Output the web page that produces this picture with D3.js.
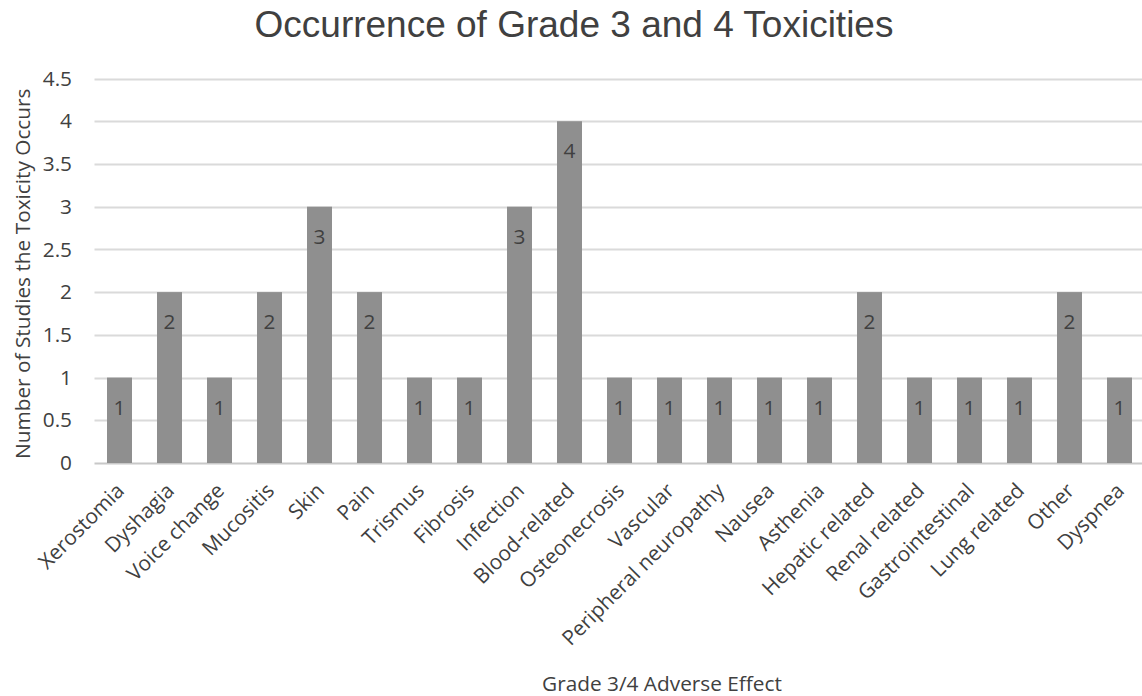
<!DOCTYPE html>
<html>
<head>
<meta charset="utf-8">
<script src="https://cdn.jsdelivr.net/npm/d3@7"></script>
<style>
  html, body { margin: 0; padding: 0; background: #fff; }
  svg { display: block; }
</style>
</head>
<body>
<svg id="chart" width="1142" height="696"></svg>
<script>
// Adverse effects and the number of studies reporting each
const categories = [
  "Xerostomia", "Dyshagia", "Voice change", "Mucositis", "Skin", "Pain",
  "Trismus", "Fibrosis", "Infection", "Blood-related", "Osteonecrosis",
  "Vascular", "Peripheral neuropathy", "Nausea", "Asthenia", "Hepatic related",
  "Renal related", "Gastrointestinal", "Lung related", "Other", "Dyspnea"
];
const counts = [1, 2, 1, 2, 3, 2, 1, 1, 3, 4, 1, 1, 1, 1, 1, 2, 1, 1, 1, 2, 1];
const yTicks = [0, 0.5, 1, 1.5, 2, 2.5, 3, 3.5, 4, 4.5];

const titleText = "Occurrence of Grade 3 and 4 Toxicities";
const xTitle = "Grade 3/4 Adverse Effect";
const yTitle = "Number of Studies the Toxicity Occurs";

const svg = d3.select("#chart");
const labelFont = "'Open Sans', 'Noto Sans', sans-serif";
const textColor = "#404040";
const fs = 20.8;

const plot = { left: 94.5, right: 1144.5, top: 78.5, bottom: 463 };

const x = d3.scaleBand()
  .domain(categories)
  .range([plot.left, plot.right])
  .paddingInner(0.5)
  .paddingOuter(0.25);

const y = d3.scaleLinear()
  .domain([0, 4.5])
  .range([plot.bottom, plot.top]);

// Horizontal gridlines
svg.append("g")
  .selectAll("line")
  .data(yTicks)
  .join("line")
  .attr("x1", plot.left)
  .attr("x2", 1142)
  .attr("y1", d => Math.round(y(d)) + 0.5)
  .attr("y2", d => Math.round(y(d)) + 0.5)
  .attr("stroke", d => d === 0 ? "#c8c8c8" : "#dadada")
  .attr("stroke-width", 2);

// Y axis tick labels
const yAxis = d3.axisLeft(y).tickValues(yTicks).tickSize(0).tickPadding(0)
  .tickFormat(d => String(d));
const yg = svg.append("g")
  .attr("transform", `translate(${72},0)`)
  .call(yAxis);
yg.select(".domain").remove();
yg.selectAll("text")
  .attr("font-family", labelFont)
  .attr("font-size", fs)
  .attr("fill", textColor);

// Bars
svg.append("g")
  .selectAll("rect")
  .data(categories)
  .join("rect")
  .attr("x", d => x(d))
  .attr("width", x.bandwidth())
  .attr("y", (d, i) => y(counts[i]))
  .attr("height", (d, i) => y(0) - y(counts[i]))
  .attr("fill", "#8f8f8f");

// Value labels inside the top of each bar
svg.append("g")
  .selectAll("text")
  .data(categories)
  .join("text")
  .attr("x", d => x(d) + x.bandwidth() / 2)
  .attr("y", (d, i) => y(counts[i]) + 37)
  .attr("text-anchor", "middle")
  .attr("font-family", labelFont)
  .attr("font-size", fs)
  .attr("fill", textColor)
  .text((d, i) => counts[i]);

// Category labels, rotated
const xAxis = d3.axisBottom(x).tickSize(0).tickPadding(0);
const xg = svg.append("g")
  .attr("transform", `translate(0,${plot.bottom})`)
  .call(xAxis);
xg.select(".domain").remove();
xg.selectAll("text")
  .attr("font-family", labelFont)
  .attr("font-size", fs)
  .attr("fill", textColor)
  .attr("text-anchor", "end")
  .attr("dy", null)
  .attr("transform", "translate(6,29) rotate(-45)");

// Chart title
svg.append("text")
  .attr("x", 574)
  .attr("y", 37)
  .attr("text-anchor", "middle")
  .attr("font-family", "'Liberation Sans', Arial, sans-serif")
  .attr("font-size", 37)
  .attr("fill", textColor)
  .text(titleText);

// X axis title
svg.append("text")
  .attr("x", 662)
  .attr("y", 691)
  .attr("text-anchor", "middle")
  .attr("font-family", labelFont)
  .attr("font-size", fs)
  .attr("fill", textColor)
  .text(xTitle);

// Y axis title
svg.append("text")
  .attr("transform", `translate(30,${(plot.top + plot.bottom) / 2 + 3}) rotate(-90)`)
  .attr("text-anchor", "middle")
  .attr("font-family", labelFont)
  .attr("font-size", fs)
  .attr("fill", textColor)
  .text(yTitle);
</script>
</body>
</html>
